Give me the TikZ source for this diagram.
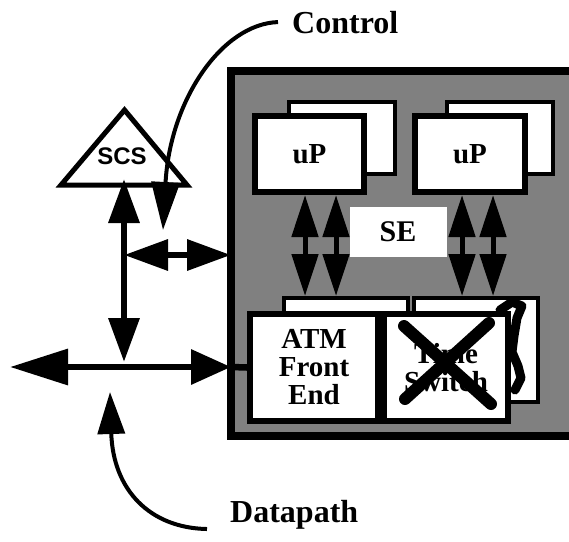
\documentclass[tikz,border=0pt]{standalone}
\usepackage{fontspec}
\setmainfont{Liberation Serif}
\newfontfamily\scsfont{Liberation Sans}
\usepackage{tikz}
\usetikzlibrary{arrows.meta}
\usetikzlibrary{positioning,calc}
\tikzset{
    rack/.style={
        draw,
        line width=8pt,
        fill=black!50,
        inner sep=0pt,
        outer sep=0pt
    },
    box/.style={
        draw,
        line width=6pt,
        fill=white,
        inner sep=0pt,
        align=center,
        font=\bfseries\fontsize{29}{28}\selectfont
    },
    backbox/.style={box, line width=4pt},
    sebox/.style={fill=white, minimum width=97pt, minimum height=50pt,
        font=\bfseries\fontsize{30}{30}\selectfont},
    lbl/.style={inner ysep=0pt, font=\bfseries\fontsize{32}{34}\selectfont},
    bus/.style={line width=6.5pt},
    link/.style={line width=5pt, >={Triangle[length=42pt,width=26pt]}},
    curve/.style={line width=4pt},
    cross/.style={line width=12pt, line cap=round}
}

\begin{document}
\begin{tikzpicture}[x=1pt, y=-1pt, >={Triangle[length=44pt,width=30pt]}]
    \useasboundingbox (0,0) rectangle (569,541);
    \clip (0,0) rectangle (569,541);

    % Switch cabinet
    \node[rack, minimum width=369pt, minimum height=365pt] (rack) at (415.5,253.5) {};

    % Spare boards behind
    \node[backbox, minimum width=106pt, minimum height=72pt] (upaback) at (342,138) {};
    \node[backbox, minimum width=106pt, minimum height=72pt] (upbback) at (500,138) {};
    \node[backbox, minimum width=124pt, minimum height=104pt] (atmback) at (346,350) {};
    \node[backbox, minimum width=124pt, minimum height=104pt] (tsback) at (476,350) {};

    % Processors and switch element
    \node[box, minimum width=109pt, minimum height=76pt] (upa) at (309.5,154) {uP};
    \node[box, minimum width=110pt, minimum height=76pt] (upb) at (470,154) {uP};
    \node[sebox] (se) at (398,232) {SE};

    % Processor links
    \draw[link, <->] ([xshift=-4.5pt]upa.south) -- ([xshift=-4.5pt]upa.south |- atmback.north);
    \draw[link, <->] ([xshift=26.5pt]upa.south) -- ([xshift=26.5pt]upa.south |- atmback.north);
    \draw[link, <->] ([xshift=-8pt]upb.south) -- ([xshift=-8pt]upb.south |- tsback.north);
    \draw[link, <->] ([xshift=23pt]upb.south) -- ([xshift=23pt]upb.south |- tsback.north);

    % Line cards
    \node[box, minimum width=128pt, minimum height=107pt] (atm) at (314,367.5) {ATM\\Front\\End};
    \node[box, minimum width=124pt, minimum height=107pt] (ts) at (446,367.5) {Time\\Switch};

    % Time switch struck out
    \draw[cross] (404,326) -- (491,404);
    \draw[cross] (489,323) -- (405,399);
    \draw[line width=9pt, line cap=round, line join=round]
        (500,310) -- (512,302) -- (522,306) -- (517,318) -- (514,336)
        -- (512,352) -- (518,366) -- (521,378) -- (515,390);

    % Control station
    \coordinate (scsl) at (61,185);
    \coordinate (scsr) at (187,185);
    \coordinate (scst) at (124.5,110);
    \draw[line width=5pt, fill=white, miter limit=4] (scsl) -- (scst) -- (scsr) -- cycle;
    \node[font=\scsfont\bfseries\fontsize{24}{24}\selectfont] (scs) at (122,156) {SCS};
    \coordinate (scsbase) at (124,187);

    % Bus
    \coordinate (hub) at (124,367);
    \coordinate (tap) at (124,255);
    \coordinate (westend) at (10,367);
    \draw[bus, <->] ($(scsbase)+(0,-8)$) -- ($(hub)+(0,-5)$);
    \draw[bus, <->] (tap) -- (tap -| rack.west);
    \draw[bus, arrows={Triangle[length=58pt,width=35pt]-Triangle[length=40pt,width=34pt]}]
        (westend) -- (hub -| rack.west);
    \draw[bus] (hub -| rack.west) -- (atm.west);

    % Labels
    \node[lbl, inner xsep=14pt, anchor=base west] (ctrl) at (278,33) {Control};
    \node[lbl, inner xsep=23pt, anchor=base west] (dp) at (207,522) {Datapath};
    \draw[curve, ->, >={Triangle[length=48pt,width=28pt]}]
        (ctrl.west) .. controls (222,24) and (170,100) .. (163,230);
    \draw[curve, ->, >={Triangle[length=42pt,width=27pt]}]
        (dp.south west) .. controls (150,528) and (113,490) .. (110,392);
\end{tikzpicture}
\end{document}
